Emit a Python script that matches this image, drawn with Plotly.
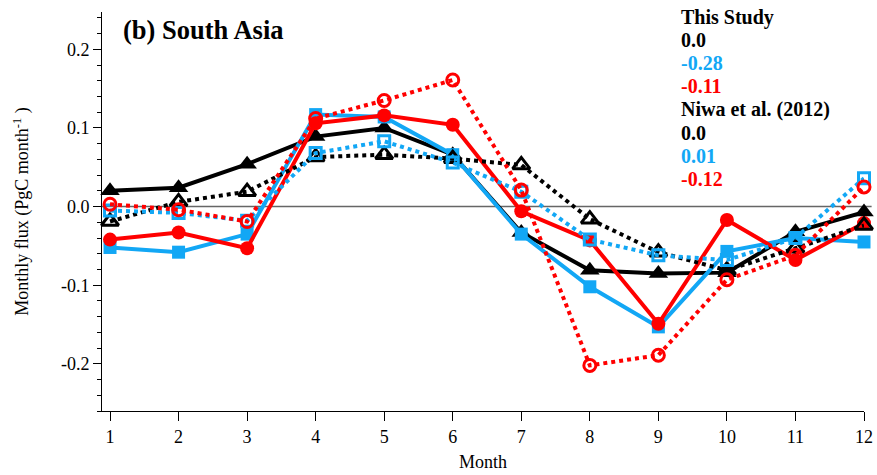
import plotly.graph_objects as go

# Monthly fluxes for South Asia (PgC month^-1)
months = [1, 2, 3, 4, 5, 6, 7, 8, 9, 10, 11, 12]

this_black = [0.020, 0.024, 0.054, 0.089, 0.100, 0.066, -0.033, -0.081, -0.085, -0.084, -0.032, -0.007]
this_blue = [-0.052, -0.058, -0.035, 0.117, 0.114, 0.066, -0.035, -0.102, -0.153, -0.057, -0.040, -0.045]
this_red = [-0.042, -0.033, -0.053, 0.106, 0.116, 0.104, -0.006, -0.043, -0.149, -0.017, -0.068, -0.021]

niwa_black = [-0.019, 0.006, 0.019, 0.063, 0.066, 0.061, 0.053, -0.016, -0.058, -0.081, -0.053, -0.024]
niwa_blue = [-0.005, -0.008, -0.018, 0.068, 0.083, 0.056, 0.019, -0.042, -0.062, -0.068, -0.040, 0.036]
niwa_red = [0.003, -0.004, -0.019, 0.112, 0.135, 0.161, 0.021, -0.202, -0.189, -0.093, -0.062, 0.025]

# Annual totals shown in the key
key_this = ["0.0", "-0.28", "-0.11"]
key_niwa = ["0.0", "0.01", "-0.12"]

y_tickvals = [-0.2, -0.1, 0.0, 0.1, 0.2]
y_ticktext = ["-0.2", "-0.1", "0.0", "0.1", "0.2"]

BLACK = "#000000"
BLUE = "#12A7F5"
RED = "#FF0000"
FONT = "Liberation Serif"

fig = go.Figure()

# Zero reference line
fig.add_shape(type="line", xref="paper", yref="y", x0=0, x1=1.01, y0=0, y1=0,
              line=dict(color="#666666", width=1.5), layer="below")

solid = [
    (this_black, BLACK, "triangle-up", 17),
    (this_blue, BLUE, "square", 13),
    (this_red, RED, "circle", 14),
]
for vals, col, sym, sz in solid:
    fig.add_trace(go.Scatter(
        x=months, y=vals, mode="lines+markers", cliponaxis=False,
        line=dict(color=col, width=4),
        marker=dict(symbol=sym, size=sz, color=col, line=dict(width=0)),
        showlegend=False))

dotted = [
    (niwa_black, BLACK, "triangle-up-open", 15),
    (niwa_blue, BLUE, "square-open", 11),
    (niwa_red, RED, "circle-open", 12),
]
for vals, col, sym, sz in dotted:
    fig.add_trace(go.Scatter(
        x=months, y=vals, mode="lines+markers", cliponaxis=False,
        line=dict(color=col, width=4, dash="dot"),
        marker=dict(symbol=sym, size=sz, color=col, line=dict(width=3, color=col)),
        showlegend=False))

# Panel title
fig.add_annotation(text="<b>(b) South Asia</b>", xref="paper", yref="paper",
                   x=(121 - 102) / 762, y=1.0, xanchor="left", yanchor="middle", yshift=-18,
                   showarrow=False, font=dict(family=FONT, size=26.5, color=BLACK))

# Key with annual totals
key_lines = [("This Study", BLACK)] + list(zip(key_this, [BLACK, BLUE, RED])) + \
            [("Niwa et al. (2012)", BLACK)] + list(zip(key_niwa, [BLACK, BLUE, RED]))
for i, (txt, col) in enumerate(key_lines):
    fig.add_annotation(text="<b>%s</b>" % txt, xref="paper", yref="paper",
                       x=(679 - 102) / 762, y=1.0, xanchor="left", yanchor="middle",
                       yshift=-(17 + 23.1 * i - 12), showarrow=False,
                       font=dict(family=FONT, size=20, color=col))

fig.update_layout(
    width=877, height=475,
    margin=dict(l=102, r=13, t=12, b=64, autoexpand=False),
    paper_bgcolor="white", plot_bgcolor="white",
    font=dict(family=FONT, size=18, color=BLACK),
    xaxis=dict(
        range=[0.883, 12.0], tickvals=months, ticktext=[str(m) for m in months],
        automargin=False,
        showgrid=False, zeroline=False, showline=True, linecolor=BLACK, linewidth=1,
        ticks="outside", ticklen=9, tickcolor=BLACK, tickwidth=1,
        tickfont=dict(family=FONT, size=18),
        title=dict(text="Month", font=dict(family=FONT, size=18), standoff=9),
    ),
    yaxis=dict(
        range=[-0.260, 0.2475], tickvals=y_tickvals, ticktext=y_ticktext,
        automargin=False,
        showgrid=False, zeroline=False, showline=True, linecolor=BLACK, linewidth=1,
        ticks="outside", ticklen=8, tickcolor=BLACK, tickwidth=1,
        tickfont=dict(family=FONT, size=18),
        minor=dict(dtick=0.02, tick0=0, ticks="outside", ticklen=4, tickcolor=BLACK, showgrid=False),
        title=dict(text="Monthly flux (PgC month<sup>-1</sup> )",
                   font=dict(family=FONT, size=18), standoff=27),
    ),
)

fig.write_html("out.html")
